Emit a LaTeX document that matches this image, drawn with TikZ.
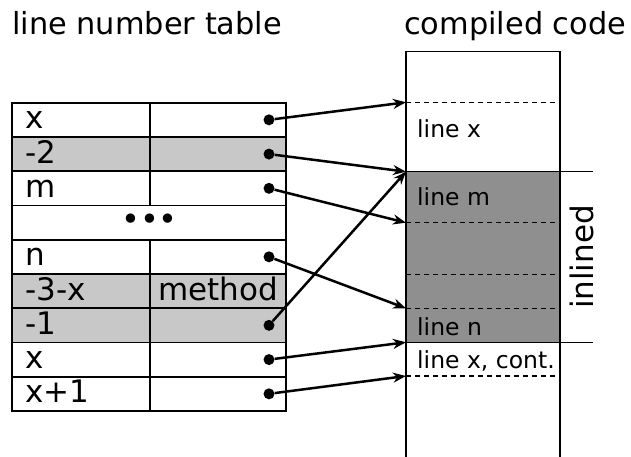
\documentclass[tikz,border=0pt]{standalone}
\usepackage{fontspec}
\setmainfont{DejaVu Sans}
\usetikzlibrary{arrows.meta}
\definecolor{lightrow}{HTML}{c8c8c8}
\definecolor{inlinecol}{HTML}{8f8f8f}

\begin{document}
\begin{tikzpicture}[x=1pt, y=-1pt,
  title/.style={anchor=base west, inner sep=0pt, font=\fontsize{30.4}{34}\selectfont},
  cell/.style={anchor=base west, inner sep=0pt, font=\fontsize{31}{34}\selectfont},
  codetxt/.style={anchor=base west, inner sep=0pt, font=\fontsize{23.5}{26}\selectfont},
  grid/.style={line width=1.7pt},
  pin/.style={circle, fill, inner sep=0pt, minimum size=11pt},
  link/.style={-{Stealth[length=13pt, width=10pt]}, line width=2.5pt},
  sep/.style={line width=1.4pt, dash pattern=on 5pt off 4pt}]

\useasboundingbox (0,0) rectangle (631,457);
\pgfmathsetmacro{\top}{102.7}
\pgfmathsetmacro{\rh}{34.25}

% === LEFT: line number table ===
\node[title] (ttab) at (12,35) {line number table};

\foreach \i in {2,6,7}
  \fill[lightrow] (12,{\top+(\i-1)*\rh}) rectangle (286,{\top+\i*\rh});

\draw[grid] (12,\top) rectangle (286,{\top+9*\rh});
\foreach \i in {1,...,8}
  \draw[grid] (12,{\top+\i*\rh}) -- (286,{\top+\i*\rh});
\draw[grid] (150,\top) -- (150,{\top+3*\rh});
\draw[grid] (150,{\top+4*\rh}) -- (150,{\top+9*\rh});

\foreach \i/\txt in {1/x, 2/-2, 3/m, 5/n, 6/-3-x, 7/-1, 8/x, 9/x+1}
  \node[cell] (r\i) at (25,{\top+\i*\rh-8}) {\txt};
\node[cell, anchor=base] (meth) at (218,{\top+6*\rh-8}) {method};
\node[cell, anchor=center, font=\fontsize{32}{34}\selectfont] (dots) at (149.5,{\top+3.5*\rh}) {•••};

\foreach \i in {1,2,3,5,7,8,9}
  \node[pin] (p\i) at (269,{\top+(\i-0.5)*\rh}) {};

% === RIGHT: compiled code ===
\node[title] (tcode) at (404,35) {compiled code};

\fill[inlinecol] (406,171.7) rectangle (560,342.3);
\draw[line width=1.5pt] (406,460) -- (406,51.7) -- (560,51.7) -- (560,460);
\draw[line width=1.3pt] (406,171.7) -- (593,171.7);
\draw[line width=1.3pt] (406,342.3) -- (593,342.3);
\foreach \y in {102.3,222.7,274.3,308.3,376}
  \draw[sep] (406,\y) -- (556,\y);

\coordinate (cx) at (406,102.3);
\coordinate (ctop) at (406,171.7);
\coordinate (cm) at (406,222.7);
\coordinate (cn) at (406,308.3);
\coordinate (cbot) at (406,342.3);
\coordinate (cxc) at (406,376);

\node[codetxt] (lx) at (417,137.7) {line x};
\node[codetxt] (lm) at (417,205) {line m};
\node[codetxt] (ln) at (417,335) {line n};
\node[codetxt] (lxc) at (417,368.3) {line x, cont.};
\node[cell, anchor=center, rotate=90] (inl) at (582,257) {inlined};

% === table entries point into the code ===
\draw[link] (p1) -- (cx);
\draw[link] (p2) -- (ctop);
\draw[link] (p3) -- (cm);
\draw[link] (p5) -- (cn);
\draw[link] (p7) -- (ctop);
\draw[link] (p8) -- (cbot);
\draw[link] (p9) -- (cxc);

\end{tikzpicture}
\end{document}
